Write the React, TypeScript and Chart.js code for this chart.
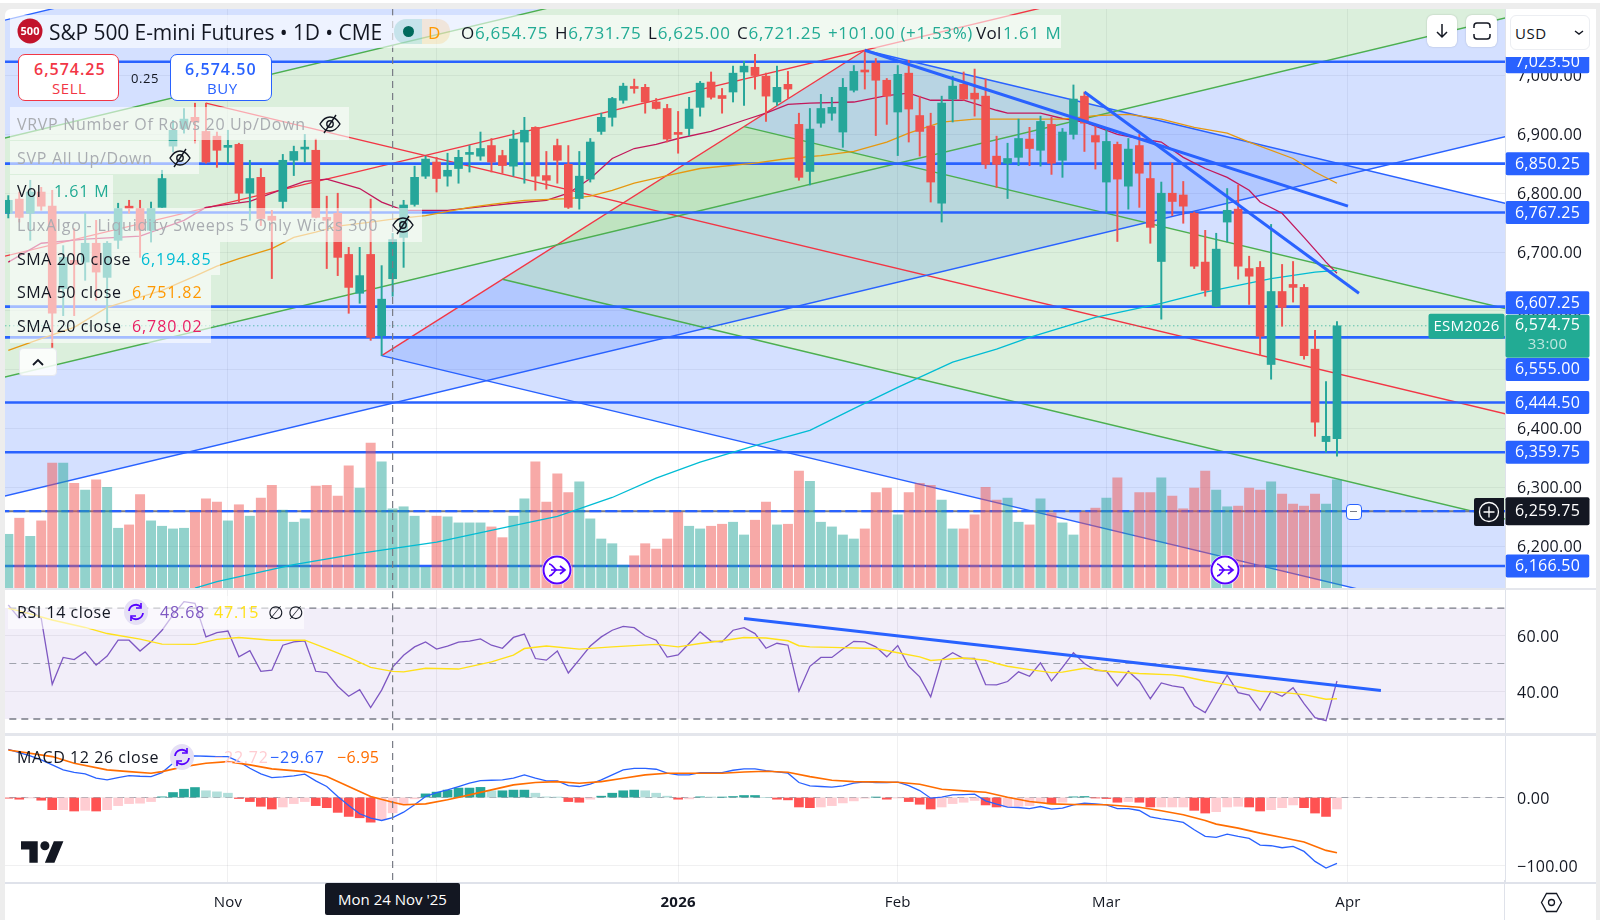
import { useEffect, useRef } from "react";
import { Chart, registerables } from "chart.js";
Chart.register(...registerables);

const opens = [6766,6790,6766,6802,6778,6638,6686,6683,6715,6657,6720,6778,6774,6737,6776,6880,6910,6929,6905,6897,6878,6883,6800,6827,6761,6786,6856,6875,6873,6759,6766,6696,6630,6696,6558,6654.75,6725,6781,6829,6853,6829,6842,6866,6863,6881,6864,6846,6887,6912,6830,6881,6849,6791,6824,6905,6929,6958,6980,6980,6955,6944,6902,6910,6946,6989,6966,6972,7006,7014,6999,6955,6985,6917,6837,6919,6936,6904,6975,7009,7021,6992,6938,7004,6932,6914,6783,6960,6985,6970,6965,6863,6851,6861,6892,6873,6917,6856,6900,6965,6898,6819,6883,6812,6881,6825,6684,6800,6797,6766,6683,6608,6751,6773,6672,6674,6509,6633,6645,6640,6535,6378,6383];
const highs = [6796,6802,6822,6810,6805,6711,6740,6766,6754,6718,6783,6788,6788,6785,6839,6924,6944,6953,6953,6904,6907,6885,6856,6842,6771,6866,6880,6900,6892,6795,6800,6708,6708,6790,6677,6731.75,6788,6846,6863,6861,6868,6873,6881,6904,6893,6873,6907,6929,6913,6871,6892,6881,6871,6893,6936,6963,6987,6994,6985,6961,6951,6939,6963,6990,7006,6978,7016,7024,7036,7004,7016,7007,6936,6944,6968,6963,6995,7017,7043,7029,6995,7017,7026,6965,6936,6965,6999,7006,7011,6994,6897,6885,6926,6912,6931,6929,6910,6984,6972,6914,6910,6887,6893,6900,6853,6819,6851,6820,6768,6737,6732,6808,6814,6693,6684,6747,6679,6684,6645,6567,6480,6582];
const lows = [6758,6751,6720,6771,6538,6592,6592,6652,6618,6579,6706,6766,6691,6717,6776,6870,6902,6885,6851,6844,6851,6785,6754,6745,6655,6774,6830,6853,6758,6672,6660,6596,6613,6550,6524,6625,6674,6778,6825,6802,6812,6817,6836,6856,6836,6834,6829,6817,6805,6807,6817,6774,6773,6819,6900,6914,6953,6970,6936,6943,6887,6868,6898,6931,6960,6936,6955,6949,6977,6922,6949,6961,6822,6814,6912,6924,6878,6972,6977,6898,6917,6864,6887,6863,6785,6751,6921,6958,6931,6842,6810,6791,6847,6847,6846,6832,6827,6892,6871,6841,6768,6718,6773,6776,6715,6586,6762,6749,6672,6625,6607,6717,6654,6611,6524,6484,6574,6615,6518,6387,6360,6353];
const closes = [6788,6759,6802,6778,6596,6691,6679,6715,6666,6715,6774,6774,6737,6774,6825,6907,6926,6921,6853,6873,6881,6800,6825,6757,6754,6856,6871,6878,6759,6754,6691,6640,6660,6555,6620,6721.25,6780,6827,6858,6825,6839,6861,6868,6876,6853,6847,6892,6907,6829,6822,6856,6776,6829,6887,6929,6961,6982,6978,6955,6944,6892,6900,6943,6987,6963,6961,7004,7016,7000,6965,6980,6977,6827,6909,6944,6946,6980,7007,7006,6992,6965,7002,6943,6905,6819,6953,6982,6960,6960,6849,6849,6859,6893,6876,6922,6851,6904,6960,6919,6887,6888,6824,6875,6834,6742,6800,6786,6778,6676,6635,6705,6771,6676,6659,6557,6633,6606,6640,6524,6411,6387,6574.75];
const volumesM = [0.8,1.04,0.77,1,1.86,1.86,1.56,1.46,1.61,1.5,0.89,0.94,1.39,1,0.92,0.88,0.89,1.13,1.33,1.28,1,1.24,1.07,1.34,1.53,1.16,0.98,1.03,1.52,1.53,1.37,1.82,1.49,2.16,1.88,1.18,1.21,1.07,0.31,1.07,1.06,0.97,0.97,0.97,0.91,0.75,1.07,1.33,1.88,1.28,1.7,1.42,1.58,1.03,0.73,0.66,0.34,0.48,0.66,0.58,0.73,1.13,0.92,0.88,0.92,0.95,0.98,0.79,1.01,1.28,0.94,0.95,1.74,1.59,0.98,0.91,0.79,0.73,0.88,1.42,1.49,1.09,1.42,1.56,1.53,1.31,0.88,0.88,1.09,1.5,1.31,1.34,0.98,0.94,1.33,1.12,0.97,0.79,1.13,1.19,1.34,1.64,1.13,1.42,1.42,1.64,1.37,1.18,1.49,1.74,1.46,1.21,1.22,1.49,1.46,1.58,1.4,1.25,1.22,1.4,1.25,1.61];

const sma20Idx = [0,3,7,12,16,18,22,25,27,29,32,34,36,40,44,46,49,51,53,55,57,59,61,64,67,69,71,73,77,80,82,84,87,90,91,94,96,98,101,103,105,107,109,111,113,114,116,118,120,121];
const sma20Vals = [6683,6715,6722,6727,6754,6776,6786,6807,6820,6824,6808,6785,6771,6771,6779,6783,6788,6800,6825,6859,6876,6883,6893,6905,6924,6936,6951,6953,6955,6966,6970,6958,6958,6941,6936,6936,6927,6921,6900,6893,6887,6861,6842,6827,6805,6785,6766,6725,6683,6664];
const sma50Idx = [0,3,6,9,14,17,19,21,24,26,28,30,33,35,38,42,44,47,51,53,55,57,60,63,68,71,74,77,80,82,85,88,96,99,102,105,108,111,113,117,119,121];
const sma50Vals = [6533,6553,6572,6606,6635,6659,6676,6689,6706,6725,6734,6744,6751,6756,6762,6776,6781,6788,6791,6795,6805,6817,6830,6842,6851,6859,6864,6871,6887,6902,6921,6926,6926,6932,6934,6926,6912,6902,6887,6859,6836,6817];
const sma200Idx = [17,19,26,32,39,46,50,55,59,63,68,73,77,81,86,90,93,99,105,109,115,119,121];
const sma200Vals = [6129,6140,6169,6188,6207,6235,6251,6283,6316,6343,6371,6397,6434,6470,6513,6535,6555,6589,6613,6632,6655,6666,6669];

const rsiVals = [71.1,66.3,69.3,66.3,42.5,52.2,51.4,54.2,49.4,52.7,58.4,58.4,54.5,57.8,62,67.5,72.3,71.7,59.6,61.1,61.7,52.4,54.6,47.2,47.6,56.6,57.8,58.2,47.2,46.7,41.8,38.2,40.6,34.1,40.4,48.68,53,56,57.8,55.2,56.3,57.7,58.1,58.9,56.6,55.5,59.4,60.6,51.8,51.2,54.5,46.6,51.4,56.3,59.6,62,63.4,62.9,60,58.4,52.3,53.1,57.2,61.4,58.1,57.8,62,62.9,60.8,55.5,57.3,56.6,40,49,52.2,52.2,55.2,58,57.8,56,52.4,56.5,49,45.2,38,51.4,53.9,51.8,51.8,42.4,42.3,43.5,47,45.4,50.2,43.7,48.6,53.9,50,47.5,47.3,41.9,47.2,43.6,37.3,43,41.9,41.3,34.7,32.3,39.2,45.8,39.5,38.6,33.1,40,38.2,41.3,35.5,30.5,29.4,43.7];
const rsiMaIdx = [0,1,4,7,9,12,14,17,19,21,24,27,29,31,33,35,36,38,41,44,46,47,49,52,55,59,61,63,65,67,69,71,72,73,75,79,81,83,84,85,87,89,90,91,93,95,96,98,100,103,106,107,109,111,113,114,116,118,120,121];
const rsiMaVals = [69.9,69,65.7,63,60.8,58.8,57,56.9,58.7,59.4,58.4,58.4,55.4,52.2,48.6,47.15,47,48.3,48,50.6,53,55.4,56.3,55.2,56,56.9,56,57.2,58.2,59.4,59.2,58.2,56.4,56,55.8,55.4,53.9,52.4,51.1,51.4,52,51.2,50,49,47.8,46.7,46.9,48.3,47.2,46.4,45.9,45.4,43.7,42.4,40.8,40,39.6,38.8,37.1,37.3];
const rsiTrendIdx = [67,125];
const rsiTrendVals = [66.2,40.3];

const macdVals = [71.4,66.5,61.6,55.7,48.3,40.9,37.4,35,28.6,26.1,29.6,32.5,31.5,31,36.9,50.7,60.6,61.6,61.1,60.6,60.6,53.2,43.3,35,29.6,30.5,32,34.5,24.6,16.3,1.5,-11.8,-24.1,-30.5,-34,-29.67,-21.7,-10.8,1.5,7.4,11.3,16.3,21.2,25.1,25.6,26.1,28.6,33.5,28.6,24.6,24.6,17.7,16.3,19.7,26.1,33.5,40.9,43.3,43.3,41.9,36,33.5,33.5,36.9,36.9,36.9,40.4,42.4,42.4,39.9,37.9,36,22.2,17.2,16.3,15.3,17.2,21.2,23.2,22.2,22.2,22.7,17.7,10.3,-1,0.5,3.9,4.4,4.9,-4.9,-9.9,-14.3,-14.8,-16.3,-13.3,-17.2,-15.8,-10.8,-8.4,-9.4,-10.8,-16.3,-16.3,-19.2,-28.6,-31.5,-34,-36.9,-47.8,-57.6,-59.1,-54.2,-57.6,-60.6,-70.4,-71.4,-74.4,-72.4,-79.8,-94.6,-104.4,-97.5];
const signalIdx = [0,4,6,9,11,13,14,16,18,20,22,24,27,29,31,33,35,36,38,40,42,44,46,48,50,52,54,56,58,60,63,65,67,69,71,73,75,77,79,81,83,85,87,89,91,93,95,97,100,103,105,107,109,110,112,114,116,118,120,121];
const signalVals = [70.4,60.6,50.7,40.9,38.4,36,38.4,45.8,50.7,53.2,48.3,42.4,38.4,31,16.3,1.5,-6.95,-10.8,-9.4,-3.4,3.9,11.3,18.7,22.2,23.6,21.2,23.6,28.6,33.5,36,36,36,37.9,38.9,37.4,31,25.6,23.6,23.2,22.7,19.7,12.3,9.9,7.9,0.5,-5.9,-9.4,-10.3,-10.8,-14.3,-19.7,-25.6,-34,-39.4,-45.3,-52.7,-59.1,-66,-78.3,-81.8];
const histVals = [-1,-2.5,-0.5,-4,-18,-18,-20,-19,-20,-18,-12,-9,-8.4,-6,1,7.4,12.3,14.8,10,8.4,6.4,-1.5,-6,-13,-17,-14,-9,-6,-12,-15,-22,-28,-30,-36.5,-33,-22.72,-11,-2,5.4,8,11,14,14,15,10,10,11,11,6.4,1,0.5,-6,-7,-2.5,2,6.4,10,11,10,6.4,2,-2.5,-2,1,0.5,0.5,1.5,3,3,0,-2.5,-3.5,-14,-15,-14,-12,-8,-5,-1,0.5,-2.5,-0.5,-6,-10,-17,-14,-9,-7,-4.4,-11,-14,-14,-13,-12,-7.4,-9.4,-7,1,1.5,-0.5,-1.5,-7,-6,-7,-14,-14,-14,-14,-19,-23,-21,-14,-13,-14,-20,-18,-15,-11,-15,-23,-28,-17];

const priceLevels = [7023.5,6850.25,6767.25,6607.25,6555,6444.5,6359.75,6166.5];
const priceLabels = ["7,023.50","6,850.25","6,767.25","6,607.25","6,555.00","6,444.50","6,359.75","6,166.50"];
const labelNudge = [0,0,0,-4,32,0,0,0];
const currentPrice = 6574.75;
const alertPrice = 6259.75;
const priceTicks = [7000,6900,6800,6700,6600,6500,6400,6300,6200];
const rsiTicks = [60,40];
const macdTicks = [0,-100];
const monthIdx = [20,39,61,81,100,122];
const monthNames = ["Nov","Dec","2026","Feb","Mar","Apr"];
const crossIdx = 35;

// pitchfork anchors (bar index, price)
const forkA = [18,6953];
const forkB = [78,7043];
const forkC = [34,6524];
// rising fork: prices at bar -1 and bar 137 for each level (upper, upper mid, median, lower mid, lower)
const riseLeft = [7091,6890.7,6690,6484.6,6282.3];
const riseRight = [7708,7507,7306.7,7101,6899];
const trendOne = [[78,7043],[122,6778]];
const trendTwo = [[98,6972],[123,6630]];

const X_MIN = -0.3, X_MAX = 136.3, X_END = 137;
const UP = "#26A69A", DOWN = "#EF5350", BLUE = "#2962FF", GREEN = "#4CAF50", RED = "#F23645";
const FILL_BLUE = "rgba(41,98,255,0.2)", FILL_GREEN = "rgba(76,175,80,0.2)";
const GRID = "rgba(42,46,57,0.07)";
const FONT = '"Open Sans", sans-serif';

const rows = (idx: number[], vals: number[]) => idx.map((x, k) => ({ x, y: vals[k] }));
const line = (data: any[], color: string, width: number, order: number, extra: any = {}) => ({
  type: "line", data, borderColor: color, borderWidth: width, pointRadius: 0, tension: 0, order, yAxisID: "y", spanGaps: true, ...extra,
});
const seg = (a: number, b: number, v: number) => [{ x: a, y: v }, { x: b, y: v }];

// descending fork geometry, from its three anchors
const mid = [(forkB[0] + forkC[0]) / 2, (forkB[1] + forkC[1]) / 2];
const slope = (mid[1] - forkA[1]) / (mid[0] - forkA[0]);
const m1 = [(forkB[0] + mid[0]) / 2, (forkB[1] + mid[1]) / 2];
const m2 = [(forkC[0] + mid[0]) / 2, (forkC[1] + mid[1]) / 2];
const toEnd = (p: number[]) => ({ x: X_END, y: p[1] + slope * (X_END - p[0]) });
const pt = (p: number[]) => ({ x: p[0], y: p[1] });

const xAxis = (show: boolean) => ({
  type: "linear", min: X_MIN, max: X_MAX, offset: false,
  grid: { color: GRID, offset: false, drawTicks: false, tickLength: 0 },
  border: { display: false },
  afterBuildTicks: (s: any) => { s.ticks = monthIdx.map((value) => ({ value })); },
  afterFit: (s: any) => { s.height = show ? 32 : 0; s.paddingLeft = 0; s.paddingRight = 0; },
  ticks: {
    display: show, autoSkip: false, maxRotation: 0, padding: 11, color: "#131722",
    font: (c: any) => ({ family: FONT, size: 15, weight: c.tick && c.tick.value === 61 ? "700" : "400" }),
    callback: (v: number) => monthNames[monthIdx.indexOf(v)] ?? "",
  },
});
const yAxis = (min: number, max: number, ticks: number[], fmt: (v: number) => string, nudge: number) => ({
  type: "linear", position: "right", min, max,
  grid: { color: GRID, drawTicks: false, tickLength: 0 },
  border: { display: true, color: "#dfe2ea" },
  afterBuildTicks: (s: any) => { s.ticks = ticks.map((value) => ({ value })); },
  afterFit: (s: any) => { s.width = 91; s.paddingTop = 0; s.paddingBottom = 0; },
  ticks: { autoSkip: false, padding: 12, labelOffset: nudge, color: "#131722", font: { family: FONT, size: 16 }, callback: fmt },
});
const money = (v: number) => v.toLocaleString("en-US", { minimumFractionDigits: 2, maximumFractionDigits: 2 }).replace("-", "\u2212");

const spacingPlugin = {
  id: "spacing",
  beforeDraw(c: any) { c.ctx.letterSpacing = "0.25px"; },
};
const fillsPlugin = {
  id: "fills",
  beforeDatasetsDraw(c: any) {
    const { ctx, chartArea: a, scales: { x, y } } = c;
    const poly = (pts: any[], color: string) => {
      ctx.beginPath();
      pts.forEach((p, k) => { const px = x.getPixelForValue(p.x), py = y.getPixelForValue(p.y); k ? ctx.lineTo(px, py) : ctx.moveTo(px, py); });
      ctx.closePath(); ctx.fillStyle = color; ctx.fill();
    };
    ctx.save();
    ctx.beginPath(); ctx.rect(a.left, a.top, a.right - a.left, a.bottom - a.top); ctx.clip();
    const bandColors = [FILL_BLUE, FILL_GREEN, FILL_GREEN, FILL_BLUE];
    bandColors.forEach((col, k) => poly([
      { x: -1, y: riseLeft[k] }, { x: X_END, y: riseRight[k] }, { x: X_END, y: riseRight[k + 1] }, { x: -1, y: riseLeft[k + 1] },
    ], col));
    poly([pt(forkB), toEnd(forkB), toEnd(m1), pt(m1)], FILL_BLUE);
    poly([pt(m1), toEnd(m1), toEnd(m2), pt(m2)], FILL_GREEN);
    poly([pt(m2), toEnd(m2), toEnd(forkC), pt(forkC)], FILL_BLUE);
    ctx.restore();
  },
};
const roundBox = (ctx: any, x: number, y: number, w: number, h: number, col: string) => {
  ctx.fillStyle = col; ctx.beginPath(); ctx.roundRect(x, y, w, h, 2); ctx.fill();
};
const badgesPlugin = {
  id: "badges",
  afterDraw(c: any) {
    const { ctx, chartArea: a, scales: { y } } = c;
    const bx = a.right + 0.5, bw = 84, cx = bx + bw / 2;
    ctx.save();
    ctx.textAlign = "center"; ctx.textBaseline = "middle";
    priceLevels.forEach((p, k) => {
      const py = y.getPixelForValue(p) + labelNudge[k];
      ctx.save();
      ctx.beginPath(); ctx.rect(bx, k === 0 ? py - 5 : py - 13, bw, 30); ctx.clip();
      roundBox(ctx, bx, py - 11.5, bw, 23, BLUE);
      ctx.fillStyle = "#fff"; ctx.font = `500 16px ${FONT}`;
      ctx.fillText(priceLabels[k], cx, py + 0.5);
      ctx.restore();
    });
    const cy = y.getPixelForValue(currentPrice);
    roundBox(ctx, bx, cy - 11, bw, 43, "#22AB94");
    ctx.fillStyle = "#fff"; ctx.font = `500 16px ${FONT}`;
    ctx.fillText("6,574.75", cx, cy - 0.5);
    ctx.fillStyle = "rgba(255,255,255,0.7)"; ctx.font = `400 15px ${FONT}`;
    ctx.fillText("33:00", cx, cy + 19);
    roundBox(ctx, a.right - 76.5, cy - 12, 76, 25, "#22AB94");
    ctx.fillStyle = "#fff"; ctx.font = `500 15px ${FONT}`;
    ctx.fillText("ESM2026", a.right - 38.5, cy + 0.5);
    const ay = y.getPixelForValue(alertPrice);
    roundBox(ctx, bx, ay - 14, bw, 28, "#131722");
    ctx.fillStyle = "#fff"; ctx.font = `500 16px ${FONT}`;
    ctx.fillText("6,259.75", cx, ay + 0.5);
    ctx.restore();
  },
};
const rsiBand = {
  id: "rsiBand",
  beforeDatasetsDraw(c: any) {
    const { ctx, chartArea: a, scales: { y } } = c;
    ctx.fillStyle = "rgba(126,87,194,0.1)";
    const t = y.getPixelForValue(70), b = y.getPixelForValue(30);
    ctx.fillRect(a.left, t, a.right - a.left, b - t);
  },
};

function usePane(build: () => any) {
  const ref = useRef<HTMLCanvasElement | null>(null);
  useEffect(() => {
    const cfg = build();
    const chart = new Chart(ref.current as any, {
      ...cfg,
      plugins: [spacingPlugin, ...(cfg.plugins || [])],
      options: {
        ...cfg.options, animation: false, responsive: false, devicePixelRatio: 1, events: [],
        layout: { padding: 0 }, plugins: { legend: { display: false }, tooltip: { enabled: false } },
      },
    });
    return () => chart.destroy();
  }, []);
  return ref;
}

function mainConfig() {
  const idx = opens.map((_, i) => i);
  const col = idx.map((i) => (closes[i] >= opens[i] ? UP : DOWN));
  const volCol = idx.map((i) => (closes[i] >= opens[i] ? "rgba(38,166,154,0.5)" : "rgba(239,83,80,0.5)"));
  const riseColors = [BLUE, GREEN, RED, GREEN, BLUE];
  const forkLines = [
    ...riseColors.map((c, k) => line([{ x: -1, y: riseLeft[k] }, { x: X_END, y: riseRight[k] }], c, 1.4, 100)),
    line([pt(forkA), toEnd(forkA)], RED, 1.4, 100),
    line([pt(forkB), toEnd(forkB)], BLUE, 1.4, 100),
    line([pt(m1), toEnd(m1)], GREEN, 1.4, 100),
    line([pt(m2), toEnd(m2)], GREEN, 1.4, 100),
    line([pt(forkC), toEnd(forkC)], BLUE, 1.4, 100),
    line([pt(forkC), pt(forkB)], RED, 1.4, 100),
  ];
  return {
    type: "bar",
    data: {
      datasets: [
        ...forkLines,
        ...priceLevels.map((p) => line(seg(-1, X_END, p), BLUE, 2.6, 90)),
        line(seg(-1, X_END, alertPrice), "#787B86", 2, 89),
        line(seg(-1, X_END, alertPrice), BLUE, 2.4, 88, { borderDash: [12, 4] }),
        line(seg(-1, 129.3, currentPrice), "#22AB94", 1, 87, { borderDash: [1, 3] }),
        { type: "bar", data: idx.map((i) => ({ x: i, y: volumesM[i] })), backgroundColor: volCol, barThickness: 9.3, grouped: false, order: 80, yAxisID: "vol" },
        line(rows(sma200Idx, sma200Vals), "#00BCD4", 1.3, 60),
        line(rows(sma50Idx, sma50Vals), "#E6980F", 1.3, 60),
        line(rows(sma20Idx, sma20Vals), "#C2185B", 1.3, 60),
        { type: "bar", data: idx.map((i) => ({ x: i, y: [lows[i], highs[i]] })), backgroundColor: col, barThickness: 1.3, grouped: false, order: 50, yAxisID: "y" },
        { type: "bar", data: idx.map((i) => ({ x: i, y: [opens[i], closes[i]] })), backgroundColor: col, barThickness: 8, minBarLength: 2, grouped: false, order: 49, yAxisID: "y" },
        line(trendOne.map(pt), BLUE, 3, 40),
        line(trendTwo.map(pt), BLUE, 3, 40),
        line([{ x: crossIdx, y: 6000 }, { x: crossIdx, y: 7200 }], "#787B86", 1.2, 30, { borderDash: [7, 5] }),
      ],
    },
    options: {
      scales: {
        x: xAxis(false),
        y: yAxis(6129.2, 7114.75, priceTicks, money, 1),
        vol: { type: "linear", display: false, min: 0, max: 8.64 },
      },
    },
    plugins: [fillsPlugin, badgesPlugin],
  };
}
function rsiConfig() {
  return {
    type: "line",
    data: {
      datasets: [
        line(seg(-1, X_END, 70), "#787B86", 1.3, 50, { borderDash: [7, 5] }),
        line(seg(-1, X_END, 50), "#A0A3AD", 1, 50, { borderDash: [7, 5] }),
        line(seg(-1, X_END, 30), "#787B86", 1.3, 50, { borderDash: [7, 5] }),
        line(rsiVals.map((y, x) => ({ x, y })), "#7E57C2", 1.3, 20),
        line(rows(rsiMaIdx, rsiMaVals), "#FFE11A", 1.4, 10),
        line(rows(rsiTrendIdx, rsiTrendVals), BLUE, 3, 5),
        line([{ x: crossIdx, y: 0 }, { x: crossIdx, y: 100 }], "#787B86", 1.2, 3, { borderDash: [7, 5] }),
      ],
    },
    options: { scales: { x: xAxis(false), y: yAxis(24.95, 76.5, rsiTicks, (v: number) => money(v), 2) } },
    plugins: [rsiBand],
  };
}
function macdConfig() {
  const tone = histVals.map((v, i) => {
    const p = i ? histVals[i - 1] : 0;
    if (v >= 0) return v >= p ? "#26A69A" : "#B2DFDB";
    return v < p ? "#FF5252" : "#FFCDD2";
  });
  return {
    type: "bar",
    data: {
      datasets: [
        line(seg(-1, X_END, 0), "#A0A3AD", 1, 60, { borderDash: [7, 5] }),
        { type: "bar", data: histVals.map((y, x) => ({ x, y })), backgroundColor: tone, barThickness: 9, grouped: false, order: 40, yAxisID: "y" },
        line(macdVals.map((y, x) => ({ x, y })), "#2962FF", 1.3, 20),
        line(rows(signalIdx, signalVals), "#FF6D00", 1.6, 10),
        line([{ x: crossIdx, y: -300 }, { x: crossIdx, y: 300 }], "#787B86", 1.2, 3, { borderDash: [7, 5] }),
      ],
    },
    options: { scales: { x: xAxis(true), y: yAxis(-126.6, 92.6, macdTicks, money, 2) } },
  };
}

const abs = (s: any) => ({ position: "absolute", ...s });
const T = ({ x, y, size = 16, color = "#131722", weight = 400, ls = 0.55, children }: any) => (
  <div style={abs({ left: x, top: y, transform: "translateY(-50%)", fontSize: size, color, fontWeight: weight, lineHeight: 1, letterSpacing: ls, whiteSpace: "nowrap" })}>{children}</div>
);
const Veil = ({ x, y, w, h, a = 0.58 }: any) => <div style={abs({ left: x, top: y, width: w, height: h, background: `rgba(255,255,255,${a})` })} />;
const Eye = ({ x, y }: any) => (
  <svg style={abs({ left: x - 12, top: y - 11 })} width="24" height="22" viewBox="0 0 24 22" fill="none" stroke="#131722" strokeWidth="1.4">
    <path d="M2 11c3-5 7-7 10-7s7 2 10 7c-3 5-7 7-10 7S5 16 2 11z" /><circle cx="12" cy="11" r="3.2" /><path d="M18 2L6 20" />
  </svg>
);
const Spin = ({ x, y }: any) => (
  <svg style={abs({ left: x - 14, top: y - 14 })} width="28" height="28" viewBox="0 0 28 28" fill="none">
    <ellipse cx="14" cy="14" rx="12" ry="13" fill="#e5e0f5" />
    <path d="M7 13a7 7 0 0 1 12-4M21 15a7 7 0 0 1-12 4" stroke="#5500ff" strokeWidth="1.8" /><path d="M19 5v5h-5M9 23v-5h5" stroke="#5500ff" strokeWidth="1.6" />
  </svg>
);
const EventDot = ({ x, y }: any) => (
  <svg style={abs({ left: x - 16, top: y - 16 })} width="32" height="32" viewBox="0 0 32 32" fill="none">
    <circle cx="16" cy="16" r="15" fill="#fff" /><circle cx="16" cy="16" r="13.5" stroke="#5500ff" strokeWidth="2" fill="#fff" />
    <path d="M8 10c4 0 5 6 8 6-3 0-4 6-8 6M10 16h13M19 12l5 4-5 4" stroke="#5500ff" strokeWidth="1.7" />
  </svg>
);
const Btn = ({ x, w, children }: any) => (
  <div style={abs({ left: x, top: 15, width: w, height: 32, background: "#fff", borderRadius: 6, boxShadow: "0 0 2px rgba(0,0,0,.2)", display: "flex", alignItems: "center", justifyContent: "center" })}>{children}</div>
);

export default function App() {
  const a = usePane(mainConfig);
  const b = usePane(rsiConfig);
  const c = usePane(macdConfig);
  const teal = "#22AB94";
  return (
    <div style={abs({ position: "fixed", left: 0, top: 0, width: 1600, height: 920, background: "#ededed", overflow: "hidden", fontFamily: FONT })}>
      <div style={abs({ left: 0, top: 0, width: 1600, height: 3, background: "#fff" })} />
      <div style={abs({ left: 5, top: 9, width: 1591, height: 911, background: "#fff", borderRadius: "6px 6px 0 0" })} />
      <canvas ref={a} width={1591} height={580} style={abs({ left: 5, top: 8, display: "block" })} />
      <div style={abs({ left: 5, top: 8, width: 1591, height: 1, background: "#ededed" })} />
      <canvas ref={b} width={1591} height={143} style={abs({ left: 5, top: 590, display: "block" })} />
      <canvas ref={c} width={1591} height={180} style={abs({ left: 5, top: 735, display: "block" })} />
      <div style={abs({ left: 5, top: 588, width: 1591, height: 2, background: "#e4e6ec" })} />
      <div style={abs({ left: 5, top: 733, width: 1591, height: 2.5, background: "#e4e6ec" })} />
      <div style={abs({ left: 5, top: 882, width: 1591, height: 1.5, background: "#dfe2ea" })} />
      <div style={abs({ left: 1504, top: 880, width: 1.2, height: 40, background: "#dfe2ea" })} />

      <Veil x={10} y={15} w={1051} h={33} a={0.6} />
      <svg style={abs({ left: 17, top: 18 })} width="26" height="26"><circle cx="13" cy="13" r="12.5" fill="#C2132B" /><text x="13" y="17" textAnchor="middle" fontSize="11" fontWeight="700" fill="#fff" fontFamily={FONT}>500</text></svg>
      <T x={49} y={32} size={21} ls={-0.1}>S&amp;P 500 E-mini Futures • 1D • CME</T>
      <div style={abs({ left: 394, top: 19, width: 28, height: 25, background: "rgba(38,166,154,.2)", borderRadius: "12px 0 0 12px" })} />
      <div style={abs({ left: 422, top: 19, width: 28, height: 25, background: "rgba(255,152,0,.14)", borderRadius: "0 12px 12px 0" })} />
      <div style={abs({ left: 403, top: 26, width: 11, height: 11, background: "#00695C", borderRadius: 6 })} />
      <T x={428} y={32} size={17} color="#FF9800" weight={500}>D</T>
      <T x={461} y={32} size={17} ls={0.75}>O<span style={{ color: teal }}>6,654.75</span></T>
      <T x={555} y={32} size={17} ls={0.75}>H<span style={{ color: teal }}>6,731.75</span></T>
      <T x={648} y={32} size={17} ls={0.75}>L<span style={{ color: teal }}>6,625.00</span></T>
      <T x={737} y={32} size={17} ls={0.75}>C<span style={{ color: teal }}>6,721.25</span></T>
      <T x={828} y={32} size={17} ls={0.65} color={teal}>+101.00 (+1.53%)</T>
      <T x={976} y={32} size={17} ls={0.3}>Vol</T>
      <T x={1003} y={32} size={17} ls={0.9} color={teal}>1.61 M</T>

      <div style={abs({ left: 18, top: 54, width: 101, height: 47, background: "#fff", border: "1.5px solid #F23645", borderRadius: 7, boxSizing: "border-box" })} />
      <T x={34} y={69} size={16} color="#F23645" weight={600} ls={1}>6,574.25</T>
      <T x={52} y={88} size={15} color="#F23645">SELL</T>
      <T x={131} y={78} size={13}>0.25</T>
      <div style={abs({ left: 170, top: 54, width: 102, height: 47, background: "#fff", border: "1.5px solid #2962FF", borderRadius: 7, boxSizing: "border-box" })} />
      <T x={185} y={69} size={16} color="#2962FF" weight={600} ls={1}>6,574.50</T>
      <T x={207} y={88} size={15} color="#2962FF">BUY</T>

      <Veil x={10} y={107} w={339} h={33} />
      <T x={17} y={124} color="#a9acb1" ls={0.7}>VRVP Number Of Rows 20 Up/Down</T>
      <Eye x={330} y={124} />
      <Veil x={10} y={141} w={189} h={33} />
      <T x={17} y={158} color="#a9acb1" ls={0.7}>SVP All Up/Down</T>
      <Eye x={180} y={158} />
      <Veil x={10} y={175} w={103} h={33} />
      <T x={17} y={191} ls={0.3}>Vol</T>
      <T x={54} y={191} color={teal} ls={0.9}>1.61 M</T>
      <Veil x={10} y={208} w={412} h={34} />
      <T x={17} y={225} color="#a9acb1" ls={0.8}>LuxAlgo - Liquidity Sweeps 5 Only Wicks 300</T>
      <Eye x={403} y={225} />
      <Veil x={10} y={242} w={210} h={33} />
      <T x={17} y={259}>SMA 200 close</T>
      <T x={141} y={259} color="#00BCD4" ls={0.9}>6,194.85</T>
      <Veil x={10} y={275} w={201} h={68} />
      <T x={17} y={292}>SMA 50 close</T>
      <T x={132} y={292} color="#FF9800" ls={0.9}>6,751.82</T>
      <T x={17} y={326}>SMA 20 close</T>
      <T x={132} y={326} color="#E91E63" ls={0.9}>6,780.02</T>
      <div style={abs({ left: 19, top: 348, width: 38, height: 28, background: "rgba(255,255,255,.85)", border: "1px solid #e6e8ee", borderRadius: 4, boxSizing: "border-box" })}>
        <svg width="36" height="26" fill="none" stroke="#131722" strokeWidth="1.8"><path d="M13 16l5-5 5 5" /></svg>
      </div>

      <Veil x={8} y={596} w={296} h={33} />
      <T x={17} y={612}>RSI 14 close</T>
      <Spin x={136} y={612} />
      <T x={160} y={612} color="#7E57C2" ls={0.9}>48.68</T>
      <T x={214} y={612} color="#FFE11A" ls={0.9}>47.15</T>
      <T x={268} y={612} size={18}>∅</T>
      <T x={288} y={612} size={18}>∅</T>
      <T x={17} y={757}>MACD 12 26 close</T>
      <Spin x={182} y={757} />
      <T x={214} y={757} color="#FFCDD2" ls={0.8}>−22.72</T>
      <T x={270} y={757} color="#2962FF" ls={0.8}>−29.67</T>
      <T x={337} y={757} color="#FF6D00" ls={0.3}>−6.95</T>

      <Btn x={1427} w={30}><svg width="20" height="20" fill="none" stroke="#131722" strokeWidth="1.5"><path d="M10 3v13M5 11l5 5 5-5" /></svg></Btn>
      <Btn x={1466} w={31}><svg width="20" height="20" fill="none" stroke="#131722" strokeWidth="1.5"><path d="M2 7V5a3 3 0 0 1 3-3h10a3 3 0 0 1 3 3v2M2 13v2a3 3 0 0 0 3 3h10a3 3 0 0 0 3-3v-2" /></svg></Btn>
      <div style={abs({ left: 1506, top: 9, width: 90, height: 48, background: "#fff" })} />
      <div style={abs({ left: 1510, top: 15, width: 80, height: 35, background: "#fff", border: "1px solid #eceef2", borderRadius: 6, boxSizing: "border-box" })} />
      <T x={1515} y={33} size={15}>USD</T>
      <svg style={abs({ left: 1574, top: 29 })} width="10" height="8" fill="none" stroke="#131722" strokeWidth="1.4"><path d="M1 2l4 3 4-3" /></svg>

      <div style={abs({ left: 1474, top: 497.5, width: 30, height: 28.5, background: "#131722", borderRadius: "2px 0 0 2px" })}>
        <svg width="30" height="28" fill="none" stroke="#fff" strokeWidth="1.3"><circle cx="15" cy="14" r="9.5" /><path d="M15 8.5v11M9.5 14h11" /></svg>
      </div>
      <div style={abs({ left: 1346, top: 504, width: 16, height: 15.5, background: "#fff", border: "1.5px solid #2962FF", borderRadius: 4, boxSizing: "border-box" })}>
        <div style={abs({ left: 3, top: 5.5, width: 7, height: 1.5, background: "#787B86" })} />
      </div>

      <EventDot x={557} y={570} />
      <EventDot x={1225} y={570} />

      <svg style={abs({ left: 21, top: 841 })} width="43" height="22" viewBox="0 0 36 18" fill="#131722"><path d="M14 18H7V7H0V0h14v18zM28 18h-8L27.5 0h8L28 18z" /><circle cx="20" cy="3.8" r="3.8" /></svg>
      <div style={abs({ left: 325, top: 883, width: 135, height: 32, background: "#131722", borderRadius: 2, color: "#fff", fontSize: 15, fontWeight: 500, lineHeight: "32px", textAlign: "center", whiteSpace: "nowrap" })}>Mon 24 Nov '25</div>
      <svg style={abs({ left: 1540, top: 892 })} width="23" height="21" fill="none" stroke="#131722" strokeWidth="1.3"><path d="M6.5 1.5h10l5 9-5 9h-10l-5-9z" /><circle cx="11.5" cy="10.5" r="3" /></svg>
    </div>
  );
}
